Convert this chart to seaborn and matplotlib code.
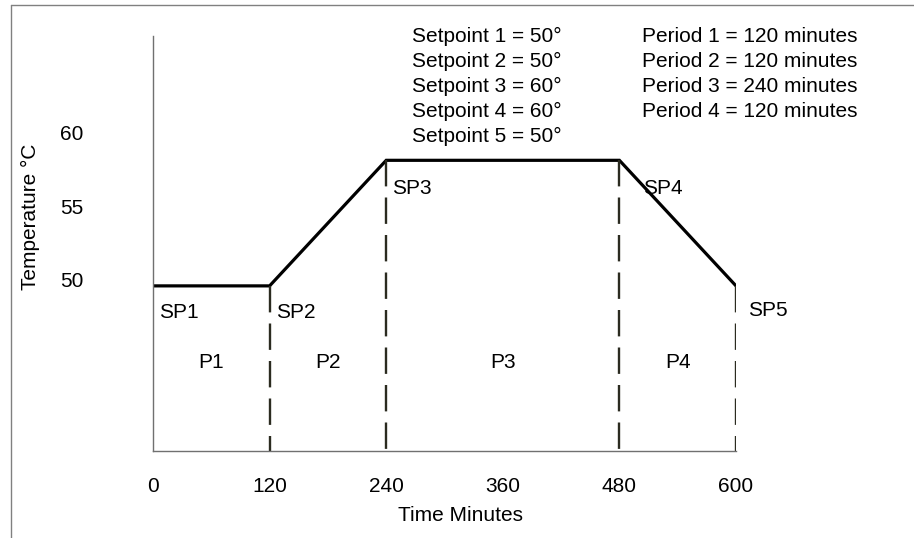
import numpy as np
import pandas as pd
import matplotlib
matplotlib.use('Agg')
import matplotlib.pyplot as plt
from matplotlib.lines import Line2D
import seaborn as sns

# setpoint profile
setpoints = [50, 50, 60, 60, 50]
periods = [120, 120, 240, 120]
sp_labels = ['SP1', 'SP2', 'SP3', 'SP4', 'SP5']
p_labels = ['P1', 'P2', 'P3', 'P4']
x_ticks = [0, 120, 240, 360, 480, 600]
y_tick_labels = ['50', '55', '60']
y_tick_pos = [50.5, 56.3, 62.2]

times = np.concatenate([[0], np.cumsum(periods)])
df = pd.DataFrame({'time': times, 'temp': setpoints})

sns.set_style('white')
plt.rcParams['font.family'] = ['Liberation Sans', 'DejaVu Sans']
plt.rcParams['lines.scale_dashes'] = False
for key in ['text.color', 'axes.labelcolor', 'xtick.color', 'ytick.color']:
    plt.rcParams[key] = 'black'

fig = plt.figure(figsize=(9.14, 5.38), dpi=100)
ax = fig.add_axes([153 / 914, 87 / 538, 583 / 914, 415 / 538])

sns.lineplot(data=df, x='time', y='temp', color='black', linewidth=2.3, ax=ax,
             solid_joinstyle='miter')

# dashed period markers
for t, v in zip(times[1:], setpoints[1:]):
    ax.plot([t, t], [v, 36.85], color='#2b2b20', linewidth=1.7, dashes=(19, 8))

ax.set_xlim(0, 600)
ax.set_ylim(36.85, 69.9)
ax.set_xticks(x_ticks)
ax.set_yticks(y_tick_pos)
ax.set_yticklabels(y_tick_labels)
ax.tick_params(axis='both', length=0, labelsize=15)
ax.tick_params(axis='x', pad=19)
ax.tick_params(axis='y', pad=50)

for side in ['top', 'right']:
    ax.spines[side].set_visible(False)
for side in ['left', 'bottom']:
    ax.spines[side].set_color('#707070')
    ax.spines[side].set_linewidth(1)

ax.set_xlabel('Time Minutes', fontsize=15)
ax.set_ylabel('Temperature °C', fontsize=15)
ax.xaxis.set_label_coords(0.528, -0.133)
ax.yaxis.set_label_coords(-0.194, 0.564)

# setpoint labels
offsets = [(4, -19), (5, -19), (4, -20), (17, -20), (9, -18)]
for t, v, lab, off in zip(times, setpoints, sp_labels, offsets):
    ax.annotate(lab, (t, v), xytext=off, textcoords='offset points',
                ha='left', va='center', fontsize=15)

# period labels
mids = times[:-1] + np.array(periods) / 2
for m, lab in zip(mids, p_labels):
    ax.text(m, 43.9, lab, ha='center', va='center', fontsize=15)

# legend text blocks
for i, v in enumerate(setpoints):
    fig.text(412 / 914, 1 - (42 + 25 * i) / 538, f'Setpoint {i + 1} = {v}°',
             ha='left', va='baseline', fontsize=15)
for i, d in enumerate(periods):
    fig.text(642 / 914, 1 - (42 + 25 * i) / 538, f'Period {i + 1} = {d} minutes',
             ha='left', va='baseline', fontsize=15)

# outer frame
fig.add_artist(Line2D([11 / 914, 11 / 914], [0, 1 - 5 / 538], transform=fig.transFigure,
                      color='#808080', linewidth=1))
fig.add_artist(Line2D([11 / 914, 1], [1 - 5 / 538, 1 - 5 / 538], transform=fig.transFigure,
                      color='#808080', linewidth=1))

fig.savefig('out.png', dpi=100)
plt.close(fig)
